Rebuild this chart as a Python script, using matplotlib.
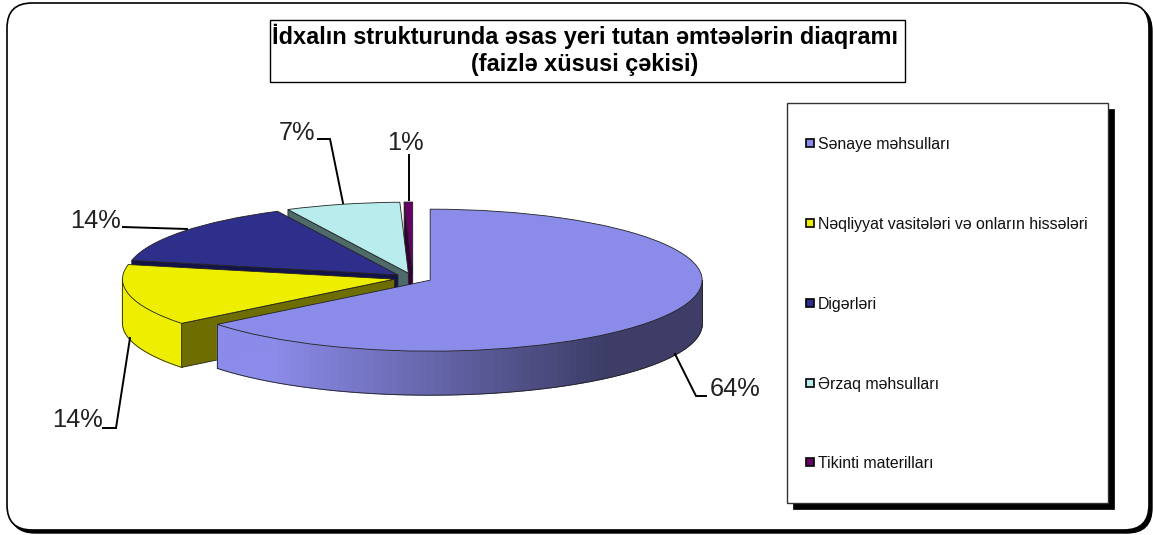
import numpy as np
import matplotlib
matplotlib.use("Agg")
import matplotlib.pyplot as plt
from matplotlib.patches import FancyBboxPatch, Rectangle
from matplotlib.colors import to_rgb

plt.rcParams['font.family'] = ['Liberation Sans', 'DejaVu Sans']

W, H = 1153, 535

title = "İdxalın strukturunda əsas yeri tutan əmtəələrin diaqramı\n(faizlə xüsusi çəkisi)"
categories = ["Sənaye məhsulları", "Nəqliyyat vasitələri və onların hissələri", "Digərləri",
              "Ərzaq məhsulları", "Tikinti materilları"]
values = [64.3, 14.0, 14.4, 6.8, 0.5]
pct_labels = ["64%", "14%", "14%", "7%", "1%"]
colors = ["#8b8be9", "#eeee00", "#2e2e8b", "#b9eded", "#660066"]
side_colors = ["#8b8be9", "#eeee00", "#14144a", "#4f6a6a", "#330033"]
cut_colors = ["#46467a", "#6e6e00", "#14144a", "#4f6a6a", "#330033"]

# pie geometry in pixels
cx, cy = 413, 278
rx, ry = 272, 71
depth = 44 / ry

fig = plt.figure(figsize=(W / 100, H / 100), dpi=100)
fig.patch.set_facecolor("white")

# frame goes underneath the pie
bg = fig.add_axes([0, 0, 1, 1], zorder=0)
bg.set_xlim(0, W)
bg.set_ylim(H, 0)
bg.axis("off")
bg.add_patch(FancyBboxPatch((10, 6), 1142, 527, boxstyle="round,pad=0,rounding_size=25", fc="black", ec="black", lw=1))
bg.add_patch(FancyBboxPatch((7, 3), 1142, 527, boxstyle="round,pad=0,rounding_size=25", fc="white", ec="black", lw=1.2))

ax = fig.add_axes([0, 0, 1, 1], zorder=1)
wedges, _ = ax.pie(values, colors=colors, startangle=90, counterclock=False, explode=[0.07] * 5,
                   wedgeprops=dict(edgecolor="#222222", linewidth=0.6))
ax.set_aspect("auto")
ax.set_xlim((0 - cx) / rx, (W - cx) / rx)
ax.set_ylim((cy - H) / ry, cy / ry)
ax.axis("off")


def side_shade(i, px):
    # px position along the slice -> colour of the outer wall
    if i == 0:
        t = np.clip((px - 270) / 330, 0, 1)
        return tuple(np.array(to_rgb("#8b8be9")) * (1 - t) + np.array(to_rgb("#3d3d68")) * t)
    return side_colors[i]


z_base = [60, 50, 40, 30, 20]
for i, w in enumerate(wedges):
    base = z_base[i]
    w.set_zorder(base + 2)
    x0, y0 = w.center
    a1, a2 = w.theta1, w.theta2

    # wall on the outside of the slice, only the part facing front
    lo, hi = max(a1, -180), min(a2, 0)
    if hi > lo:
        angs = np.radians(np.linspace(lo, hi, 90))
        xs = x0 + np.cos(angs)
        ys = y0 + np.sin(angs)
        for k in range(len(angs) - 1):
            c = side_shade(i, xs[k] * rx + cx)
            ax.fill([xs[k], xs[k + 1], xs[k + 1], xs[k]],
                    [ys[k], ys[k + 1], ys[k + 1] - depth, ys[k] - depth],
                    facecolor=c, edgecolor=c, lw=0.8, zorder=base)
        ax.plot(xs, ys - depth, color="#222222", lw=0.6, zorder=base + 1)
        ax.plot([xs[0], xs[0]], [ys[0], ys[0] - depth], color="#222222", lw=0.6, zorder=base + 1)
        ax.plot([xs[-1], xs[-1]], [ys[-1], ys[-1] - depth], color="#222222", lw=0.6, zorder=base + 1)

    # cut face of the exploded slice
    if i > 0:
        ang = np.radians(a2)
        ex, ey = x0 + np.cos(ang), y0 + np.sin(ang)
        ax.fill([x0, ex, ex, x0], [y0, ey, ey - depth, y0 - depth], facecolor=cut_colors[i],
                edgecolor="#222222", lw=0.6, zorder=base + 1)

# overlay in pixel coordinates: title, legend, labels
ov = fig.add_axes([0, 0, 1, 1], zorder=5)
ov.set_xlim(0, W)
ov.set_ylim(H, 0)
ov.axis("off")

# title box
ov.add_patch(Rectangle((270, 20), 635, 62, fc="white", ec="black", lw=1))
ov.text(585, 50, title, ha="center", va="center", fontsize=16.9, fontweight="bold", color="black", linespacing=1.2)

# legend box with shadow
ov.add_patch(Rectangle((793, 109), 321, 400, fc="black", ec="black", lw=0.5))
ov.add_patch(Rectangle((787, 103), 321, 400, fc="white", ec="#333333", lw=1))
legend_y = [143, 223, 303, 383, 462]
for name, col, y in zip(categories, colors, legend_y):
    ov.add_patch(Rectangle((806, y - 4), 8, 8, fc=col, ec="black", lw=1.2))
    ov.text(818, y + 1, name, ha="left", va="center", fontsize=11.4, color="#111111")

# leader lines and percent labels
leaders = [
    ([675, 696, 706], [354, 396, 396]),
    ([130, 116, 103], [338, 428, 428]),
    ([187, 123], [229, 227]),
    ([343, 330, 318], [203, 139, 139]),
    ([409, 409], [200, 155]),
]
label_pos = [(735, 389), (77, 420), (95, 221), (297, 133), (405, 143)]
for (lx, ly), txt, (tx, ty) in zip(leaders, pct_labels, label_pos):
    ov.plot(lx, ly, color="black", lw=1.4, solid_joinstyle="miter")
    ov.text(tx, ty, txt, ha="center", va="center", fontsize=18.3, color="#222222")

plt.savefig("out.png", dpi=100)
